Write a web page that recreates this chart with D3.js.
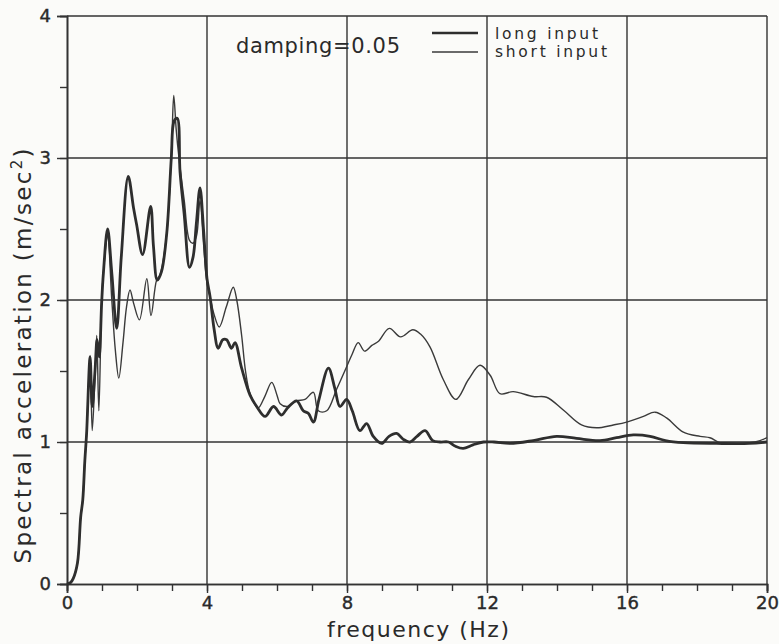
<!DOCTYPE html>
<html><head><meta charset="utf-8">
<script src="https://cdn.jsdelivr.net/npm/d3@7"></script>
<style>
body{margin:0;background:#fbfbf9;}
svg{display:block;}
text{font-family:"DejaVu Sans","Liberation Sans",sans-serif;fill:#2a2a2a;}
</style></head>
<body>
<svg id="c" width="779" height="644"></svg>
<script>
// ---- data ----
const longFreq = [0,0.1,0.18,0.3,0.39,0.45,0.51,0.56,0.66,0.72,0.8,0.86,0.92,0.99,1.04,1.16,1.28,1.42,1.55,1.75,1.9,1.99,2.16,2.39,2.47,2.58,2.7,2.85,2.98,3.06,3.15,3.23,3.35,3.5,3.6,3.7,3.8,3.9,4.0,4.09,4.2,4.32,4.45,4.56,4.7,4.8,4.99,5.23,5.42,5.66,5.9,6.13,6.3,6.56,6.75,6.9,7.04,7.2,7.47,7.65,7.8,7.99,8.15,8.37,8.56,8.75,8.99,9.2,9.42,9.6,9.8,10.0,10.23,10.45,10.66,10.9,11.1,11.32,11.6,11.9,12.2,12.66,13.32,13.99,14.56,15.23,15.7,16.18,16.66,17.1,17.61,18.56,19.5,20];
const longAcc  = [0,0.01,0.04,0.15,0.47,0.59,0.87,1.06,1.60,1.25,1.5,1.72,1.6,1.98,2.19,2.50,2.19,1.80,2.3,2.87,2.65,2.53,2.32,2.66,2.38,2.14,2.2,2.47,3.0,3.26,3.28,2.9,2.6,2.23,2.3,2.55,2.79,2.5,2.15,2.02,1.8,1.66,1.72,1.72,1.66,1.70,1.52,1.33,1.25,1.18,1.25,1.19,1.24,1.29,1.22,1.2,1.14,1.3,1.52,1.38,1.25,1.30,1.22,1.08,1.13,1.04,0.99,1.04,1.06,1.02,1.0,1.04,1.08,1.01,1.0,1.0,0.97,0.955,0.98,1.0,1.0,0.99,1.01,1.04,1.025,1.01,1.03,1.05,1.04,1.01,0.995,0.99,0.99,1.0];
const shortFreq = [0,0.1,0.18,0.3,0.39,0.45,0.51,0.56,0.66,0.72,0.8,0.85,0.91,0.99,1.04,1.16,1.28,1.38,1.48,1.6,1.7,1.8,1.9,2.07,2.28,2.4,2.56,2.66,2.85,2.99,3.05,3.12,3.2,3.35,3.5,3.6,3.7,3.8,3.9,4.0,4.09,4.2,4.35,4.55,4.75,4.85,4.99,5.1,5.23,5.46,5.65,5.85,6.0,6.09,6.3,6.56,6.8,7.04,7.18,7.42,7.7,7.99,8.15,8.32,8.5,8.71,8.9,9.21,9.53,9.88,10.1,10.37,10.75,11.11,11.47,11.8,12.09,12.37,12.75,13.32,13.7,14.18,14.7,15.13,15.61,15.99,16.47,16.8,17.13,17.61,18.09,18.37,18.66,19.04,19.51,19.8,20];
const shortAcc  = [0,0.01,0.04,0.15,0.47,0.59,0.87,1.06,1.61,1.08,1.46,1.75,1.22,2.0,2.19,2.45,2.0,1.65,1.45,1.7,1.95,2.07,1.98,1.86,2.15,1.89,2.14,2.18,2.47,3.08,3.44,3.2,3.0,2.7,2.42,2.4,2.45,2.70,2.4,2.12,2.02,1.9,1.81,1.95,2.09,2.0,1.75,1.5,1.34,1.24,1.32,1.42,1.33,1.27,1.25,1.29,1.3,1.35,1.22,1.22,1.37,1.53,1.62,1.70,1.64,1.68,1.71,1.80,1.74,1.79,1.76,1.67,1.44,1.30,1.44,1.54,1.47,1.34,1.355,1.32,1.315,1.225,1.12,1.10,1.12,1.14,1.18,1.21,1.17,1.07,1.04,1.03,0.995,0.99,0.995,1.01,1.03];
const xTicks = [0,4,8,12,16,20];
const yTicks = [0,1,2,3,4];
const seriesNames = ["long  input","short  input"];
const annotation = "damping=0.05";

// ---- layout ----
const svg = d3.select("#c");
const m = {l:67, r:767, t:16, b:584};
const x = d3.scaleLinear().domain([0,20]).range([m.l, m.r]);
const y = d3.scaleLinear().domain([0,4]).range([m.b, m.t]);
const ink = "#333";

// grid
const g = svg.append("g");
g.selectAll(".vg").data(xTicks.slice(1)).join("line")
  .attr("x1",d=>x(d)).attr("x2",d=>x(d)).attr("y1",y(0)).attr("y2",y(4))
  .attr("stroke",ink).attr("stroke-width",1.4);
g.selectAll(".hg").data(yTicks.slice(1)).join("line")
  .attr("x1",x(0)).attr("x2",x(20)).attr("y1",d=>y(d)).attr("y2",d=>y(d))
  .attr("stroke",ink).attr("stroke-width",1.4);

// axes
const xAxisMinor = d3.axisBottom(x).tickValues(d3.range(0,21,1)).tickSize(7).tickFormat("");
const xAxis = d3.axisBottom(x).tickValues(xTicks).tickSize(9).tickPadding(3).tickFormat(d3.format("d"));
const yAxisMinor = d3.axisLeft(y).tickValues(d3.range(0,4.01,0.5)).tickSize(7).tickFormat("");
const yAxis = d3.axisLeft(y).tickValues(yTicks).tickSize(10).tickPadding(6).tickFormat(d3.format("d"));
function style(sel){
  sel.select(".domain").attr("stroke",ink).attr("stroke-width",1.6);
  sel.selectAll(".tick line").attr("stroke",ink).attr("stroke-width",1.4);
  sel.selectAll(".tick text").style("font-size","18px").style("font-family","'DejaVu Sans',sans-serif")
    .attr("fill","#2a2a2a").attr("stroke","#2a2a2a").attr("stroke-width",0.4);
}
svg.append("g").attr("transform",`translate(0,${m.b})`).call(xAxisMinor).call(style);
svg.append("g").attr("transform",`translate(0,${m.b})`).call(xAxis).call(style);
svg.append("g").attr("transform",`translate(${m.l},0)`).call(yAxisMinor).call(style);
svg.append("g").attr("transform",`translate(${m.l},0)`).call(yAxis).call(style);

// curves
const line = d3.line().x(d=>x(d[0])).y(d=>y(d[1])).curve(d3.curveCatmullRom.alpha(0.5));
const shortData = shortFreq.map((f,i)=>[f,shortAcc[i]]);
const longData = longFreq.map((f,i)=>[f,longAcc[i]]);
svg.append("path").datum(shortData).attr("d",line).attr("fill","none")
  .attr("stroke","#3a3a3a").attr("stroke-width",1.4).attr("stroke-linejoin","round");
svg.append("path").datum(longData).attr("d",line).attr("fill","none")
  .attr("stroke","#2e2e2e").attr("stroke-width",2.8).attr("stroke-linejoin","round");

// axis titles
svg.append("text").attr("x",418).attr("y",637).attr("text-anchor","middle")
  .style("font-size","22px").attr("textLength",182).attr("lengthAdjust","spacing")
  .text("frequency (Hz)");
const yt = svg.append("text").attr("transform","translate(31,356) rotate(-90)")
  .attr("text-anchor","middle").style("font-size","23px")
  .attr("textLength",415).attr("lengthAdjust","spacing");
yt.append("tspan").text("Spectral  acceleration  (m/sec");
yt.append("tspan").attr("dy",-9).style("font-size","15px").text("2");
yt.append("tspan").attr("dy",9).text(")");

// annotation & legend
svg.append("text").attr("x",236).attr("y",53).style("font-size","21px")
  .attr("textLength",164).attr("lengthAdjust","spacing").text(annotation);
svg.append("line").attr("x1",432).attr("x2",478).attr("y1",33).attr("y2",33)
  .attr("stroke","#2e2e2e").attr("stroke-width",2.6);
svg.append("line").attr("x1",432).attr("x2",478).attr("y1",52).attr("y2",52)
  .attr("stroke","#3a3a3a").attr("stroke-width",1.4);
svg.append("text").attr("x",495).attr("y",39).style("font-size","15.5px")
  .attr("textLength",103).attr("lengthAdjust","spacing").text(seriesNames[0]);
svg.append("text").attr("x",495).attr("y",57).style("font-size","15.5px")
  .attr("textLength",112).attr("lengthAdjust","spacing").text(seriesNames[1]);
</script>
</body></html>
